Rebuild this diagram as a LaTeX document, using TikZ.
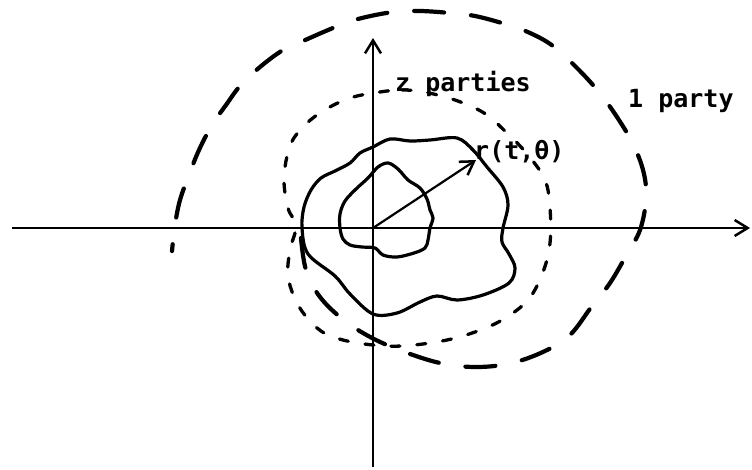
\documentclass[tikz,border=0pt]{standalone}
\usepackage{fontspec}
\setmonofont{DejaVu Sans Mono}
\usetikzlibrary{arrows.meta}
\tikzset{
  axis/.style={line width=2.5pt, -{Straight Barb[length=13pt,width=16pt,line width=2.5pt]}},
  plainaxis/.style={line width=2.5pt},
  wavy/.style={line width=3.2pt, line join=round},
  longdash/.style={line width=4.2pt, line cap=round, dash pattern=on 30pt off 27pt},
  shortdash/.style={line width=3.3pt, line cap=round, dash pattern=on 9pt off 17pt},
  lbl/.style={font=\ttfamily\bfseries\fontsize{25}{30}\selectfont, inner sep=0pt, anchor=base west}
}
\begin{document}
\begin{tikzpicture}[x=1pt,y=-1pt]
\useasboundingbox (0,0) rectangle (752,469);
\fill[white] (0,0) rectangle (752,469);
% axes
\coordinate (O) at (373,228);
\coordinate (xl) at (12,228);
\coordinate (xr) at (750,228);
\coordinate (yb) at (373,467);
\coordinate (yt) at (373,38);
\draw[plainaxis] (xl) -- (O);
\draw[axis] (O) -- (xr);
\draw[plainaxis] (yb) -- (O);
\draw[axis] (O) -- (yt);
% outer solid wavy curve
\draw[wavy] plot[smooth cycle, tension=0.55] coordinates {
 (373,147) (390,139) (410,141) (430,140) (457,138) (473,150) (487,167)
 (503,187) (508,205) (503,228) (502,242) (509,254) (515,268) (509,283)
 (483,295) (457,300) (437,296) (420,302) (397,313) (373,314) (350,294)
 (335,276) (308,254) (302,228) (304,207) (311,190) (321,178) (335,171)
 (350,163) (360,153)};
% inner solid wavy curve
\draw[wavy] plot[smooth cycle, tension=0.55] coordinates {
 (378,167) (388,163) (398,169) (408,180) (420,188) (427,199) (430,210)
 (433,218) (430,228) (428,240) (425,248) (414,253) (397,257) (383,255)
 (375,248) (362,247) (350,245) (343,239) (340,228) (340,214) (345,201)
 (356,189) (368,178)};
% short dashed curve (z parties)
\draw[shortdash] plot[smooth cycle, tension=0.6] coordinates {
 (380,92) (402,90) (424,92) (455,100) (484,113) (507,133) (528,155)
 (545,180) (550,208) (550,243) (543,272) (528,300) (502,320) (475,332)
 (447,340) (414,345) (386,346) (352,342) (326,334) (309,320) (296,301)
 (288,276) (290,250) (296,226) (288,208) (284,178) (290,146) (303,127)
 (323,111) (350,98)};
% long dashed spiral (1 party)
\draw[longdash] plot[smooth, tension=0.6] coordinates {
 (301,238) (306,270) (320,297) (345,321) (376,340) (413,355) (445,364)
 (478,367) (512,363) (545,351) (570,335) (592,306) (610,283) (627,254)
 (640,230) (646,200) (644,174) (634,146) (617,117) (598,91) (577,68)
 (553,46) (530,33) (505,24) (475,16) (450,13) (420,11) (393,12)
 (358,19) (333,28) (303,41) (283,50) (260,67) (240,86) (226,105)
 (212,125) (199,150) (189,175) (180,200) (175,225) (172,251)};
% radius vector
\coordinate (R) at (476,160);
\draw[axis, line width=2.2pt] (O) -- (R);
% labels
\node[lbl] (zp) at (395,91) {z parties};
\node[lbl] (op) at (628,107) {1 party};
\node[lbl] (rt) at (474,159) {r(t,θ)};
\end{tikzpicture}
\end{document}
